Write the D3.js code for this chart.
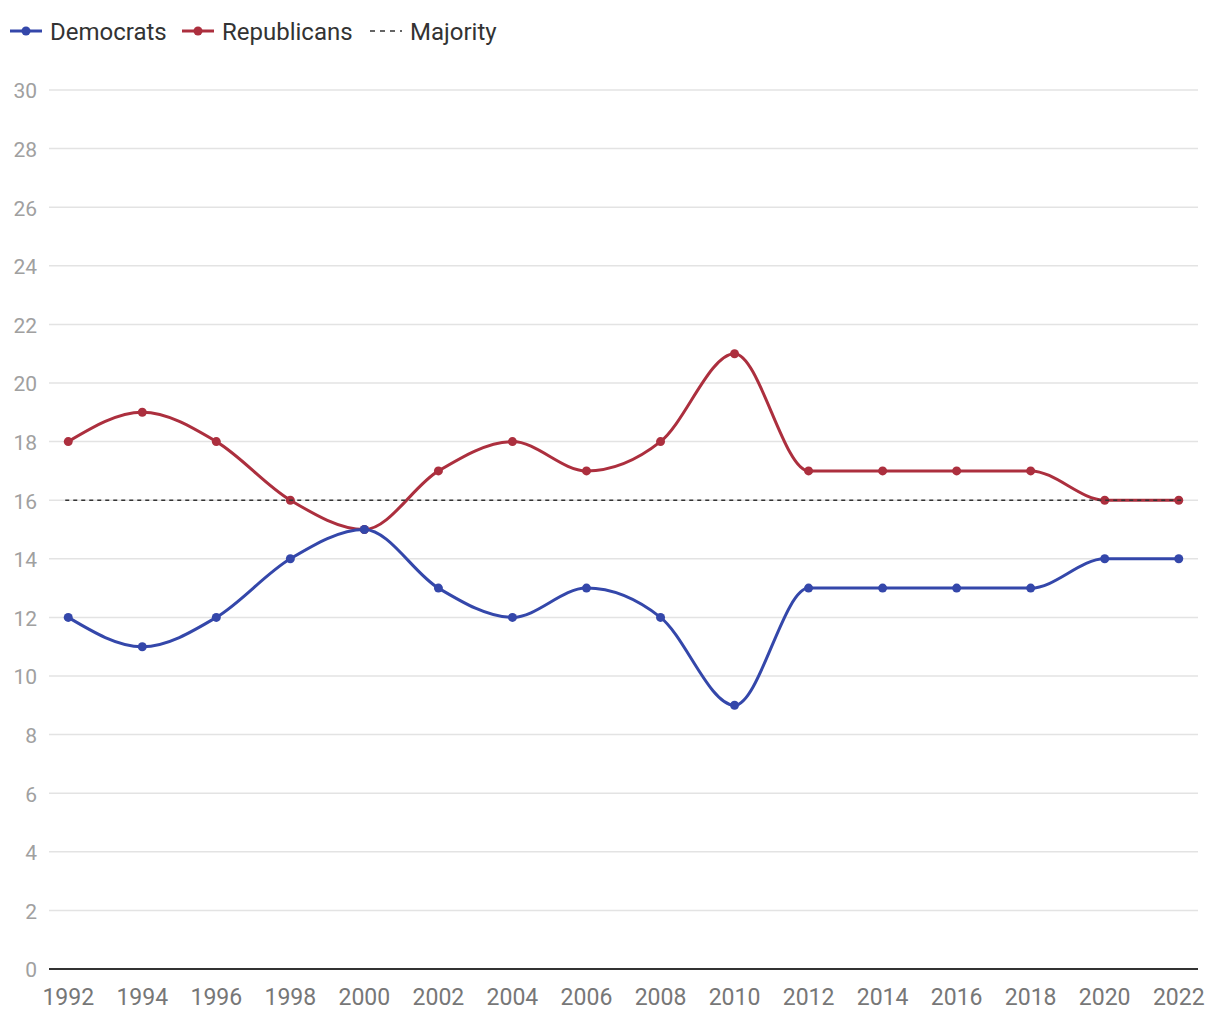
<!DOCTYPE html>
<html>
<head>
<meta charset="utf-8">
<script src="https://cdn.jsdelivr.net/npm/d3@7"></script>
<style>
  html, body { margin: 0; padding: 0; background: #fff; }
  svg { display: block; font-family: Roboto, "Noto Sans", sans-serif; }
</style>
</head>
<body>
<svg id="chart" width="1220" height="1020"></svg>
<script>
const years = [1992,1994,1996,1998,2000,2002,2004,2006,2008,2010,2012,2014,2016,2018,2020,2022];
const democrats = [12,11,12,14,15,13,12,13,12,9,13,13,13,13,14,14];
const republicans = [18,19,18,16,15,17,18,17,18,21,17,17,17,17,16,16];
const majority = 16;
const yTicks = [0,2,4,6,8,10,12,14,16,18,20,22,24,26,28,30];

const blue = "#3447aa", red = "#ac2f3e";
const svg = d3.select("#chart");
const plotL = 49, plotR = 1198;
const x = d3.scalePoint().domain(years).range([plotL, plotR]).padding(0.26);
const y = d3.scaleLinear().domain([0,30]).range([969, 90]);

// grid
svg.append("g").selectAll("line").data(yTicks.filter(d => d > 0)).join("line")
  .attr("x1", plotL).attr("x2", plotR)
  .attr("y1", d => y(d)).attr("y2", d => y(d))
  .attr("stroke", "#e3e3e3").attr("stroke-width", 1.5);

// y labels
svg.append("g").selectAll("text").data(yTicks).join("text")
  .attr("x", 37).attr("y", d => y(d) + 1).attr("dy", "0.35em")
  .attr("text-anchor", "end").attr("fill", "#a0a0a0").attr("font-size", 21)
  .text(d => d);

// x axis baseline
svg.append("line").attr("x1", plotL).attr("x2", plotR).attr("y1", y(0)).attr("y2", y(0))
  .attr("stroke", "#333").attr("stroke-width", 2);

// x labels
svg.append("g").selectAll("text").data(years).join("text")
  .attr("x", d => x(d)).attr("y", 1005)
  .attr("text-anchor", "middle").attr("fill", "#777").attr("font-size", 23)
  .text(d => d);

const line = d3.line().curve(d3.curveMonotoneX);

function series(vals, color) {
  const pts = years.map((yr, i) => [x(yr), y(vals[i])]);
  svg.append("path").attr("d", line(pts)).attr("fill", "none")
    .attr("stroke", color).attr("stroke-width", 3);
  svg.append("g").selectAll("circle").data(pts).join("circle")
    .attr("cx", d => d[0]).attr("cy", d => d[1]).attr("r", 4.5).attr("fill", color);
}
series(republicans, red);
series(democrats, blue);

// majority line
svg.append("line")
  .attr("x1", x(years[0]) - 3).attr("x2", x(years[years.length-1]) + 3)
  .attr("y1", y(majority)).attr("y2", y(majority))
  .attr("stroke", "#333").attr("stroke-width", 1.6).attr("stroke-dasharray", "4,4");

// legend
const legend = [
  {label: "Democrats", color: blue, x0: 10, type: "point"},
  {label: "Republicans", color: red, x0: 182, type: "point"},
  {label: "Majority", color: "#333", x0: 370, type: "dash"}
];
const lg = svg.append("g");
legend.forEach(d => {
  if (d.type === "point") {
    lg.append("line").attr("x1", d.x0).attr("x2", d.x0 + 32).attr("y1", 31).attr("y2", 31)
      .attr("stroke", d.color).attr("stroke-width", 3);
    lg.append("circle").attr("cx", d.x0 + 16).attr("cy", 31).attr("r", 4.5).attr("fill", d.color);
  } else {
    lg.append("line").attr("x1", d.x0).attr("x2", d.x0 + 32).attr("y1", 31).attr("y2", 31)
      .attr("stroke", d.color).attr("stroke-width", 1.6).attr("stroke-dasharray", "5,5");
  }
  lg.append("text").attr("x", d.x0 + 40).attr("y", 32).attr("dy", "0.35em")
    .attr("fill", "#333").attr("font-size", 24).text(d.label);
});
</script>
</body>
</html>
